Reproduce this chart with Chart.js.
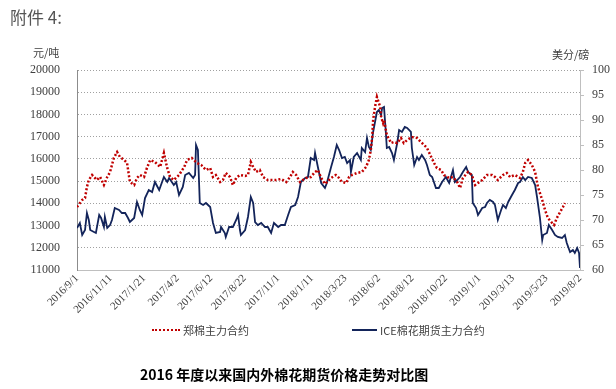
<!DOCTYPE html>
<html>
<head>
<meta charset="utf-8">
<script src="https://cdn.jsdelivr.net/npm/chart.js@4/dist/chart.umd.min.js"></script>
<style>
  body { margin: 0; background: #fff; }
  #wrap { position: relative; width: 616px; height: 389px; overflow: hidden; }
  #cnv { position: absolute; left: 0; top: 0; }
  .txt { position: absolute; font-family: "Noto Sans CJK SC", sans-serif; color: #404040; white-space: nowrap; }
  .key { position: absolute; height: 0; }
</style>
</head>
<body>
<div id="wrap">
  <canvas id="cnv" width="616" height="389"></canvas>
  <div class="txt" style="left:10px;top:4px;font-size:17px;color:#555;">附件 4:</div>
  <div class="txt" style="left:33px;top:44px;font-size:11px;">元/吨</div>
  <div class="txt" style="left:552px;top:46px;font-size:11px;">美分/磅</div>
  <div class="key" style="left:152px;top:329px;width:28px;border-top:2px dotted #c00000;"></div>
  <div class="txt" style="left:183px;top:322px;font-size:11px;">郑棉主力合约</div>
  <div class="key" style="left:352px;top:329px;width:25px;border-top:2px solid #13245a;"></div>
  <div class="txt" style="left:380px;top:322px;font-size:11px;">ICE棉花期货主力合约</div>
  <div class="txt" style="left:140px;top:364px;font-size:14px;font-weight:bold;color:#000;">2016 年度以来国内外棉花期货价格走势对比图</div>
</div>
<script>
// x ticks: every 71 days from 2016/9/1
let xTickLabels = ['2016/9/1','2016/11/11','2017/1/21','2017/4/2','2017/6/12','2017/8/22','2017/11/1','2018/1/11',
  '2018/3/23','2018/6/2','2018/8/12','2018/10/22','2019/1/1','2019/3/13','2019/5/23','2019/8/2']

// 郑棉主力合约 (元/吨), x = days since 2016/9/1
let zceDay = [0,11,17,21,25,32,42,49,57,64,70,78,85,91,100,106,112,121,127,133,142,148,155,165,176,184,191,197,205,216,
  227,233,243,254,263,273,282,288,294,303,309,315,324,330,337,345,356,362,368,373,379,387,394,404,415,421,432,443,451,457,
  464,472,478,485,495,504,510,517,525,538,548,555,561,570,576,582,593,603,612,618,622,625,627,631,635,637,642,644,648,650,
  656,665,671,678,686,692,699,709,720,728,735,741,750,756,762,771,777,788,796,805,811,817,828,836,843,849,858,868,879,885,
  891,902,910,917,927,938,944,949,955,963,970,976,985,991,997,1006,1010,1016,1023,1029,1033]
let zceVals = [13835,14150,14240,14735,15050,15275,15050,15185,14825,15185,15410,16040,16310,16085,15950,15815,14960,14825,15140,15275,
  15185,15590,15950,15860,15635,16265,15590,15185,15050,15275,15635,15950,16040,15815,15725,15500,15590,15185,15275,14960,
  15050,15365,15185,14825,15140,15275,15230,15275,15860,15635,15410,15500,15185,15050,15050,15050,15095,14960,15185,15410,
  15275,14960,15050,15140,15185,15410,15500,15140,14870,15140,15275,15140,14960,14915,15185,15275,15365,15410,15635,15950,
  16400,16985,17750,18335,18785,18650,18335,17885,17615,17750,17075,16715,16760,16715,16940,16715,16850,16985,16940,16760,
  16625,16490,16085,15815,15590,15500,15275,15140,15185,14960,14690,15140,15410,15275,14825,14915,15050,15275,15275,15185,
  15050,15275,15365,15185,15275,15140,15410,15815,15950,15725,15410,14735,14150,13700,13340,13115,13025,13340,13610,13835,14015]

// ICE棉花期货主力合约 (美分/磅)
let iceDay = [0,6,11,17,21,25,28,36,40,47,51,57,59,64,70,74,80,89,95,102,108,112,121,127,133,138,144,152,159,165,
  174,184,191,195,205,210,216,224,229,237,246,250,252,256,260,267,273,282,288,294,303,305,313,315,322,330,337,341,345,347,
  356,362,368,373,377,383,390,398,404,411,417,426,432,440,447,453,462,468,474,483,489,495,502,504,510,517,525,529,538,544,
  550,555,561,567,572,578,580,586,593,601,603,610,614,618,622,627,633,635,639,644,646,650,654,656,661,667,671,678,682,688,
  694,699,707,709,714,720,724,730,737,741,747,752,760,766,773,781,788,796,800,805,811,817,824,828,836,838,845,849,858,864,
  868,874,881,885,891,898,902,908,913,921,927,934,938,944,949,955,963,970,974,980,985,987,995,999,1006,1012,1018,1027,1033,1037,
  1044,1050,1054,1059,1063,1065]
let iceVals = [68.4,69.4,67.0,68.0,71.4,70.0,68.0,67.6,67.4,71.0,70.4,68.6,70.6,68.4,69.0,70.0,72.4,72.0,71.4,71.4,
  70.4,69.6,70.4,73.6,72.0,71.0,74.4,76.0,75.6,77.6,76.0,78.6,77.6,78.4,77.0,77.6,75.0,76.6,79.0,79.4,
  78.4,79.0,85.0,84.0,73.4,73.0,73.4,72.6,69.4,67.4,67.6,68.6,67.4,66.6,68.6,68.6,70.0,71.0,68.0,67.0,
  68.0,70.6,74.6,73.4,69.6,69.0,69.4,68.6,68.6,67.4,69.4,68.6,69.0,69.0,71.0,72.6,73.0,74.6,77.6,78.4,
  78.6,82.4,82.0,83.4,80.6,77.4,76.4,77.4,80.6,82.6,85.0,84.0,82.4,82.6,81.4,82.0,79.6,82.6,83.4,82.0,
  84.4,83.6,86.4,84.6,84.0,87.6,90.6,91.6,92.0,91.0,92.4,92.6,87.4,84.4,84.6,83.4,82.0,85.4,88.0,87.6,
  88.6,88.4,87.6,84.4,81.0,82.6,82.0,83.0,82.0,81.0,79.0,78.6,76.4,76.4,77.6,78.6,77.4,80.0,77.6,78.0,
  78.6,79.6,80.6,79.6,79.0,73.4,72.4,71.0,72.4,72.6,73.4,74.0,73.6,73.0,70.0,72.0,73.0,72.4,73.6,75.0,
  76.0,77.4,77.6,78.6,78.0,78.6,78.4,77.0,74.6,70.6,66.0,67.0,67.4,69.0,68.0,67.0,66.6,66.4,67.0,65.4,
  63.6,64.0,63.4,64.4,63.4,60.4]

let zcePts = zceDay.map((d, i) => ({x: d, y: zceVals[i]}))
let icePts = iceDay.map((d, i) => ({x: d, y: iceVals[i]}))

let tickFont = {family: 'Liberation Serif', size: 12}

new Chart(document.getElementById('cnv').getContext('2d'), {
  type: 'line',
  data: {
    datasets: [
      {
        label: '郑棉主力合约',
        data: zcePts,
        yAxisID: 'yL',
        borderColor: '#c00000',
        borderWidth: 2.5,
        borderDash: [2, 2],
        pointRadius: 0,
        tension: 0
      },
      {
        label: 'ICE棉花期货主力合约',
        data: icePts,
        yAxisID: 'yR',
        borderColor: '#13245a',
        borderWidth: 1.8,
        pointRadius: 0,
        tension: 0
      }
    ]
  },
  options: {
    responsive: false,
    animation: false,
    layout: {padding: {top: 70, left: 0, right: 0, bottom: 59}},
    plugins: {legend: {display: false}, tooltip: {enabled: false}},
    scales: {
      x: {
        type: 'linear',
        min: 0,
        max: 1065,
        afterFit: s => { s.height = 60 },
        ticks: {
          stepSize: 71,
          autoSkip: false,
          minRotation: 45,
          maxRotation: 45,
          padding: 2,
          color: '#404040',
          font: {family: 'Liberation Serif', size: 11},
          callback: (v, i) => xTickLabels[i]
        },
        grid: {display: false, drawTicks: false},
        border: {display: true, color: '#bfbfbf', width: 1}
      },
      yL: {
        position: 'left',
        min: 11000,
        max: 20000,
        afterFit: s => { s.width = 77 },
        ticks: {stepSize: 1000, padding: 17, color: '#404040', font: tickFont, callback: v => String(v)},
        grid: {color: '#a0a0a0', drawTicks: false, lineWidth: 1},
        border: {display: true, color: '#8c8c8c', dash: [1, 2]}
      },
      yR: {
        position: 'right',
        min: 60,
        max: 100,
        afterFit: s => { s.width = 36 },
        ticks: {stepSize: 5, padding: 8, color: '#404040', font: tickFont},
        grid: {drawOnChartArea: false, tickLength: 4, color: '#bfbfbf'},
        border: {display: true, color: '#bfbfbf'}
      }
    }
  }
})
</script>
</body>
</html>
